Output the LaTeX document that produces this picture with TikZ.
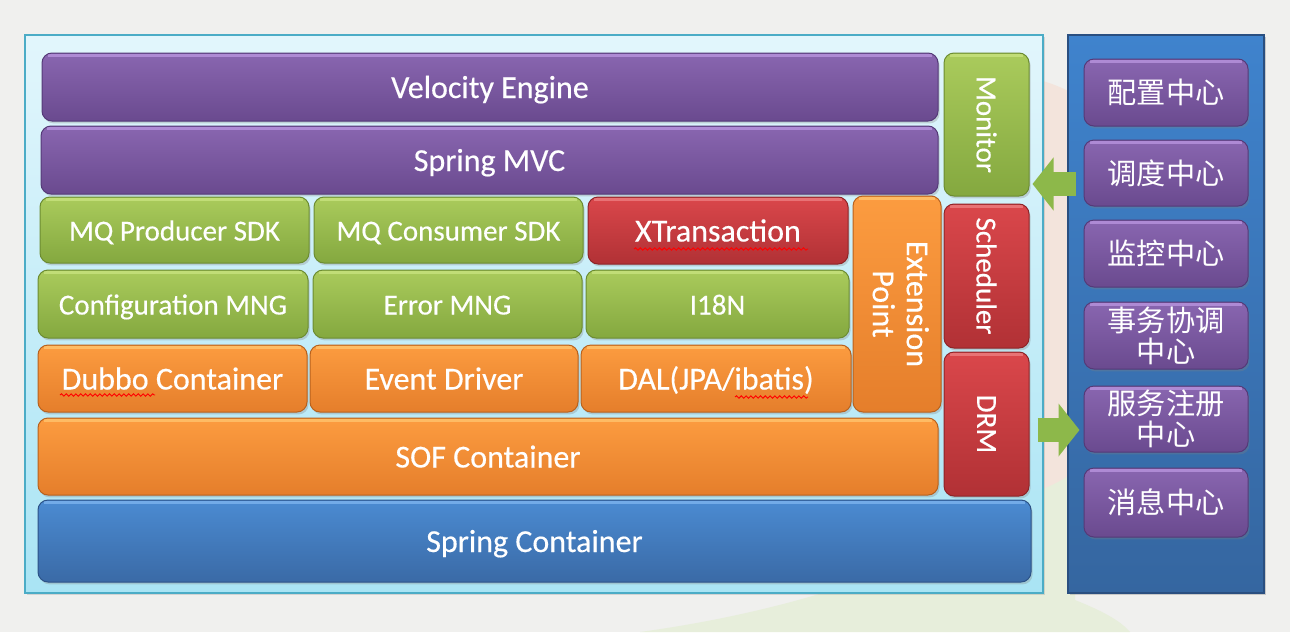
\documentclass[tikz,border=0pt]{standalone}
\usepackage{fontspec}
\setmainfont{Carlito}[FakeBold=0.35]
\newfontfamily\cjk{Noto Sans CJK SC}
\usetikzlibrary{shadows,decorations.pathmorphing,arrows.meta,calc}
\definecolor{bgc}{HTML}{F0F0EE}
\definecolor{beige}{HTML}{F3E4DC}
\definecolor{palegreen}{HTML}{E7EEDB}
\definecolor{pantop}{HTML}{E2F6FC}
\definecolor{panbot}{HTML}{A9E4F4}
\definecolor{panedge}{HTML}{4BACC6}
\definecolor{putop}{HTML}{8966B0}
\definecolor{pubot}{HTML}{6A4A8F}
\definecolor{pudk}{HTML}{553A78}
\definecolor{puhi}{HTML}{B894DE}
\definecolor{grtop}{HTML}{AACB5C}
\definecolor{grbot}{HTML}{84A83F}
\definecolor{grdk}{HTML}{6C8C32}
\definecolor{grhi}{HTML}{C8E27E}
\definecolor{rdtop}{HTML}{DA474B}
\definecolor{rdbot}{HTML}{B13135}
\definecolor{rddk}{HTML}{8E2528}
\definecolor{rdhi}{HTML}{EC7E80}
\definecolor{ortop}{HTML}{FC9C40}
\definecolor{orbot}{HTML}{E57E2B}
\definecolor{ordk}{HTML}{B8621E}
\definecolor{orhi}{HTML}{FFC46E}
\definecolor{bltop}{HTML}{4B8BD2}
\definecolor{blbot}{HTML}{3A6AA6}
\definecolor{bldk}{HTML}{2C5287}
\definecolor{blhi}{HTML}{7DB4EE}
\definecolor{rptop}{HTML}{3F83CD}
\definecolor{rpbot}{HTML}{3566A0}
\definecolor{rpdk}{HTML}{2A4F80}
\definecolor{arrg}{HTML}{8DB84A}
\newcommand\bx[7]{%
  \pgfmathsetmacro\cx{(#3+#5)/2}\pgfmathsetmacro\cy{(#4+#6)/2}%
  \pgfmathsetmacro\ww{(#5-#3)*0.5}\pgfmathsetmacro\hh{(#6-#4)*0.5}%
  \node[#2, minimum width=\ww pt, minimum height=\hh pt] (#1) at (\cx,\cy) {#7};}
\begin{document}
\begin{tikzpicture}[x=0.5pt,y=-0.5pt,
  box/.style={rounded corners=5pt, draw=#1dk, line width=0.5pt,
    top color=#1top, bottom color=#1bot, text=white, inner sep=0pt,
    drop shadow={shadow xshift=0.8pt, shadow yshift=-1.2pt, opacity=0.3},
    path picture={\draw[#1hi, line width=1.6pt, opacity=0.8]
      ([xshift=3pt,yshift=-1.2pt]path picture bounding box.north west) --
      ([xshift=-3pt,yshift=-1.2pt]path picture bounding box.north east);}},
  big/.style={font=\fontsize{16}{18}\selectfont, text height=11pt, text depth=0pt},
  small/.style={font=\fontsize{14.5}{17}\selectfont, text height=10.5pt, text depth=0pt},
  vert/.style={font=\fontsize{14.5}{17}\selectfont},
  vbig/.style={font=\fontsize{16}{18}\selectfont},
  cn/.style={font=\cjk\fontsize{14.6}{15.5}\selectfont, align=center},
  panel/.style={draw=panedge, line width=1.2pt, top color=pantop, bottom color=panbot, inner sep=0pt,
    drop shadow={shadow xshift=0.8pt, shadow yshift=-1pt, opacity=0.25}},
  rpanel/.style={draw=rpdk, line width=0.8pt, top color=rptop, bottom color=rpbot, inner sep=0pt,
    drop shadow={shadow xshift=1pt, shadow yshift=-1.2pt, opacity=0.35}},
  bigarrow/.style={draw=arrg, line width=12pt, -{Triangle[length=10.5pt,width=26pt]}},
  wavy/.style={draw=red, line width=0.45pt, decorate,
    decoration={snake, segment length=2.4pt, amplitude=0.6pt}}
]
\useasboundingbox (0,0) rectangle (1290,632);
\fill[bgc] (0,0) rectangle (1290,632);
\fill[beige] (990,70) .. controls (1030,75) and (1060,85) .. (1075,95) -- (1075,470) .. controls (1060,490) and (1030,500) .. (990,505) -- cycle;
\fill[palegreen] (1075,470) -- (1075,600) .. controls (1100,610) and (1120,620) .. (1130,632) -- (640,632) .. controls (800,610) and (950,560) .. (1000,500) .. controls (1030,495) and (1060,485) .. (1075,470) -- cycle;
% panels
\bx{panel}{panel}{25}{35}{1043}{593}{}
\bx{rpanel}{rpanel}{1068}{35}{1264}{593}{}
% left stack
\bx{velocity}{box=pu,big}{42}{53}{938}{121}{Velocity Engine}
\bx{mvc}{box=pu,big}{41}{126}{938}{194}{Spring MVC}
\bx{monitor}{box=gr,vert}{944}{53}{1029}{196}{\rotatebox{-90}{Monitor}}
\bx{mqp}{box=gr,small}{40}{197}{309}{263}{MQ Producer SDK}
\bx{mqc}{box=gr,small}{314}{197}{583}{263}{MQ Consumer SDK}
\bx{xtx}{box=rd,big}{588}{197}{848}{264}{XTransaction}
\bx{ext}{box=or,vbig}{853}{196}{941}{412}{\rotatebox{-90}{\begin{tabular}{@{}c@{}}Extension\\[-1pt]Point\end{tabular}}}
\bx{sched}{box=rd,vert}{944}{204}{1029}{348}{\rotatebox{-90}{Scheduler}}
\bx{cfg}{box=gr,small}{38}{270}{308}{338}{Configuration MNG}
\bx{err}{box=gr,small}{313}{270}{582}{338}{Error MNG}
\bx{i18n}{box=gr,small}{586}{270}{849}{338}{I18N}
\bx{dubbo}{box=or,big}{38}{345}{307}{412}{Dubbo Container}
\bx{event}{box=or,big}{310}{345}{578}{412}{Event Driver}
\bx{dal}{box=or,big}{581}{345}{851}{412}{DAL(JPA/ibatis)}
\bx{drm}{box=rd,vert}{944}{352}{1029}{496}{\rotatebox{-90}{DRM}}
\bx{sof}{box=or,big}{38}{418}{938}{495}{SOF Container}
\bx{spring}{box=bl,big}{38}{500}{1031}{582}{Spring Container}
% right column
\bx{c1}{box=pu,cn}{1084}{59}{1248}{126}{配置中心}
\bx{c2}{box=pu,cn}{1084}{140}{1248}{206}{调度中心}
\bx{c3}{box=pu,cn}{1084}{220}{1248}{287}{监控中心}
\bx{c4}{box=pu,cn}{1084}{302}{1248}{369}{事务协调\\中心}
\bx{c5}{box=pu,cn}{1084}{386}{1248}{452}{服务注册\\中心}
\bx{c6}{box=pu,cn}{1084}{468}{1248}{537}{消息中心}
% arrows
\coordinate (aLs) at ($(c2.west)+(-8,11)$);
\coordinate (aLe) at ($(aLs -| monitor.east)+(3,0)$);
\draw[bigarrow] (aLs) -- (aLe);
\coordinate (aRs) at ($(drm.east)+(8,6)$);
\coordinate (aRe) at ($(aRs -| c5.west)+(-4,0)$);
\draw[bigarrow] (aRs) -- (aRe);
% spell-check underlines
\draw[wavy] (60,395) -- (155,395);
\draw[wavy] (634,249) -- (808,249);
\draw[wavy] (735,397) -- (808,397);
\end{tikzpicture}
\end{document}
